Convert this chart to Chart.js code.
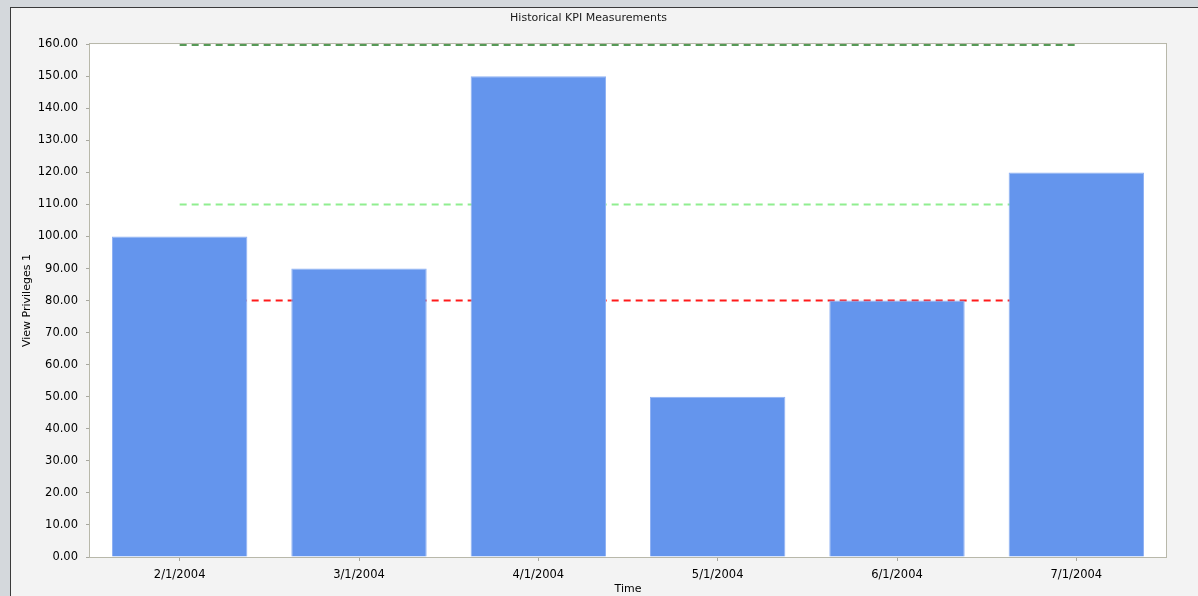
<!DOCTYPE html>
<html>
<head>
<meta charset="utf-8">
<script src="https://cdn.jsdelivr.net/npm/chart.js@4"></script>
<style>
  html, body { margin: 0; padding: 0; }
  body { width: 1198px; height: 596px; background: #d4d8dc; position: relative; overflow: hidden; }
  #frame {
    position: absolute; left: 10px; top: 7px; right: 0; bottom: 0;
    border-left: 1px solid #3a3a3a; border-top: 1px solid #3a3a3a;
    background: #f3f3f3;
  }
  #wrap { position: absolute; left: 0; top: 0; width: 1187px; height: 588px; }
</style>
</head>
<body>
<div id="frame"><div id="wrap"><canvas id="kpiChart"></canvas></div></div>
<script>
// chart data
const categories = ['2/1/2004', '3/1/2004', '4/1/2004', '5/1/2004', '6/1/2004', '7/1/2004'];
const measured = [100, 90, 150, 50, 80, 120];
const upperTarget = [160, 160, 160, 160, 160, 160];
const midTarget = [110, 110, 110, 110, 110, 110];
const lowerTarget = [80, 80, 80, 80, 80, 80];

// white plot area with a thin border, drawn before the data
const plotFrame = {
    id: 'plotFrame',
    beforeDatasetsDraw(chart) {
        const { ctx, chartArea: a } = chart;
        ctx.save();
        ctx.fillStyle = '#ffffff';
        ctx.fillRect(a.left, a.top, a.right - a.left, a.bottom - a.top);
        ctx.strokeStyle = '#b8b8aa';
        ctx.lineWidth = 1;
        ctx.strokeRect(Math.round(a.left) - 0.5, Math.round(a.top) - 0.5,
            Math.round(a.right - a.left) + 1, Math.round(a.bottom - a.top) + 1);
        ctx.restore();
    }
};

function targetLine(data, color, width) {
    return {
        type: 'line',
        data: data,
        borderColor: color,
        borderWidth: width,
        borderDash: [7, 5],
        pointRadius: 0,
        fill: false,
        tension: 0,
        order: 2
    };
}

const font = { family: 'DejaVu Sans', size: 11.5 };
const titleFont = { family: 'DejaVu Sans', size: 11, weight: 'normal' };

new Chart(document.getElementById('kpiChart'), {
    data: {
        labels: categories,
        datasets: [
            {
                type: 'bar',
                data: measured,
                backgroundColor: '#6495ed',
                borderColor: '#8fb1f3',
                borderWidth: 1,
                categoryPercentage: 1,
                barPercentage: 0.755,
                order: 1
            },
            targetLine(upperTarget, '#1f781f', 3),
            targetLine(midTarget, '#90ee90', 2),
            targetLine(lowerTarget, '#ff1a1a', 2)
        ]
    },
    options: {
        responsive: true,
        maintainAspectRatio: false,
        animation: false,
        layout: { padding: { left: 0, right: 32, top: 0, bottom: 0 } },
        plugins: {
            legend: { display: false },
            tooltip: { enabled: false },
            title: {
                display: true,
                text: 'Historical KPI Measurements',
                color: '#1a1a1a',
                font: titleFont,
                padding: { top: 4, bottom: 19 }
            }
        },
        scales: {
            x: {
                offset: true,
                grid: { display: true, drawOnChartArea: false, tickLength: 4, color: '#a8a8a0', offset: false },
                border: { display: false },
                ticks: { color: '#000', font: font, padding: 7, maxRotation: 0 },
                title: { display: true, text: 'Time', color: '#000', font: titleFont, padding: { top: 0, bottom: 0 } },
                afterFit(scale) { scale.height = 39; }
            },
            y: {
                min: 0,
                max: 160,
                grid: { display: true, drawOnChartArea: false, tickLength: 4, color: '#a8a8a0' },
                border: { display: false },
                ticks: {
                    stepSize: 10,
                    color: '#000',
                    font: font,
                    padding: 8,
                    callback: v => v.toFixed(2)
                },
                title: { display: true, text: 'View Privileges 1', color: '#000', font: titleFont, padding: { top: 10, bottom: 0 } },
                afterFit(scale) { scale.width = 79; }
            }
        }
    },
    plugins: [plotFrame]
});
</script>
</body>
</html>
